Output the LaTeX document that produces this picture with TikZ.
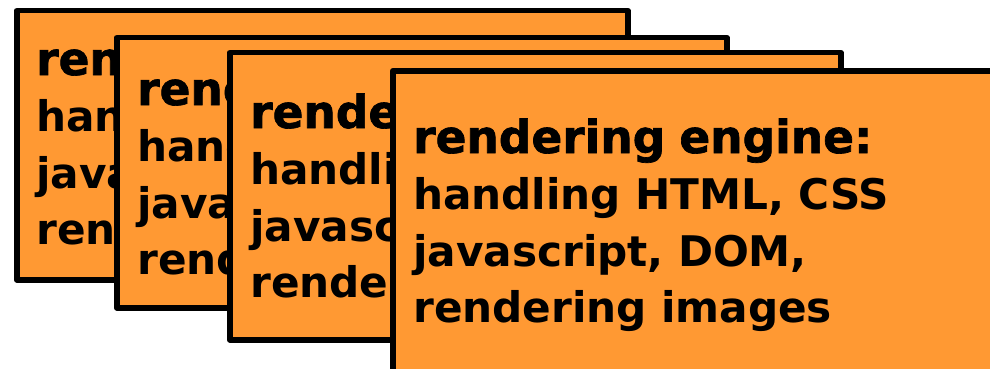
\documentclass[tikz,border=0pt]{standalone}
\usepackage{fontspec}
\setmainfont{DejaVu Sans}
\newfontfamily\bodyfont{DejaVu Sans Bold}
\newfontfamily\headfont{DejaVu Sans Bold}[FakeBold=1.5]
\definecolor{engineorange}{RGB}{255,153,51}
\tikzstyle{card} = [draw, fill=engineorange, rectangle, line width=5.5pt,
    line join=round, anchor=north west, inner sep=0pt]
\tikzstyle{cardtext} = [anchor=base west, inner sep=0pt, text width=560pt,
    align=left, font=\bodyfont\fontsize{42.2}{56.5}\selectfont]
\newcommand{\enginetext}{{\headfont\fontsize{45.5}{56.5}\selectfont rendering engine:}\\
    handling HTML, CSS\\ javascript, DOM,\\ rendering images}

\begin{document}
\begin{tikzpicture}[x=1pt, y=-1pt]
    \clip (0,0) rectangle (990,369);
    \useasboundingbox (0,0) rectangle (990,369);
    % back to front, each card hides part of the one before
    \node [card, minimum width=611pt, minimum height=269pt] (card1) at (14,8) {};
    \node [cardtext, xshift=22pt, yshift=-67pt] (text1) at (card1.north west) {\enginetext};
    \node [card, minimum width=610pt, minimum height=270pt] (card2) at (114,35) {};
    \node [cardtext, xshift=23pt, yshift=-70pt] (text2) at (card2.north west) {\enginetext};
    \node [card, minimum width=611pt, minimum height=287pt] (card3) at (227,50) {};
    \node [cardtext, xshift=23pt, yshift=-78pt] (text3) at (card3.north west) {\enginetext};
    \node [card, minimum width=620pt, minimum height=302pt] (card4) at (390,68) {};
    \node [cardtext, xshift=23pt, yshift=-85pt] (text4) at (card4.north west) {\enginetext};
\end{tikzpicture}
\end{document}
